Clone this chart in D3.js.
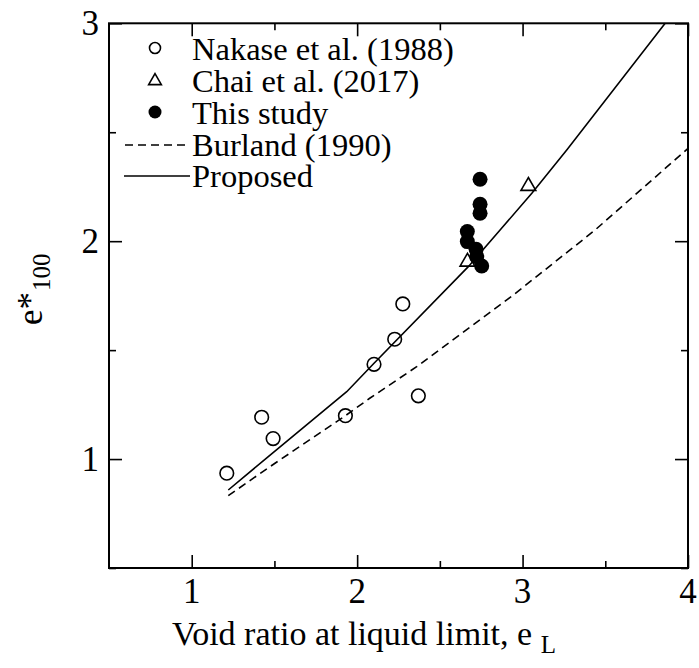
<!DOCTYPE html>
<html><head><meta charset="utf-8">
<script src="https://cdn.jsdelivr.net/npm/d3@7"></script>
<style>body{margin:0;background:#fff}svg{display:block}text{font-family:"Liberation Serif","Times New Roman",serif;fill:#000}</style>
</head><body>
<svg id="c" width="699" height="668"></svg>
<script>
// Data
const nakaseX = [1.212, 1.423, 1.492, 1.929, 2.102, 2.227, 2.276, 2.370];
const nakaseY = [0.935, 1.192, 1.094, 1.199, 1.435, 1.550, 1.712, 1.290];
const chaiX = [2.667, 3.035];
const chaiY = [1.905, 2.253];
const studyX = [2.743, 2.743, 2.743, 2.666, 2.666, 2.719, 2.723, 2.753];
const studyY = [2.284, 2.169, 2.128, 2.044, 1.998, 1.963, 1.929, 1.886];
const proposedX = [1.221, 1.463, 1.937, 2.102, 2.672, 2.864, 3.056, 3.267, 3.862];
const proposedY = [0.858, 1.011, 1.309, 1.440, 1.883, 2.051, 2.220, 2.419, 3.0];
const burlandX = [1.221, 1.461, 1.929, 2.076, 2.360, 2.944, 3.438, 4.0];
const burlandY = [0.832, 0.959, 1.199, 1.279, 1.424, 1.753, 2.051, 2.426];
const xTicks = [1, 2, 3, 4];
const yTicks = [1, 2, 3];
const xMinor = [1.5, 2.5, 3.5];
const yMinor = [0.5, 1.5, 2.5];
const legendLabels = ["Nakase et al. (1988)", "Chai et al. (2017)", "This study", "Burland (1990)", "Proposed"];

const svg = d3.select("#c");
const L = 109, R = 688, T = 23.3, B = 568;
const x = d3.scaleLinear().domain([0.5, 4]).range([L, R]);
const y = d3.scaleLinear().domain([0.5, 3]).range([B, T]);
const g = svg.append("g");

// ticks (inward) on all sides
const maj = 13, mnr = 7;
function ax(gen, tx, ty, vals, size) {
  g.append("g").attr("transform", `translate(${tx},${ty})`)
    .call(gen.tickValues(vals).tickSize(size).tickFormat(""))
    .call(s => s.select(".domain").remove());
}
ax(d3.axisTop(x), 0, B, xTicks, maj);
ax(d3.axisTop(x), 0, B, xMinor, mnr);
ax(d3.axisBottom(x), 0, T, xTicks, maj);
ax(d3.axisBottom(x), 0, T, xMinor, mnr);
ax(d3.axisRight(y), L, 0, yTicks, maj);
ax(d3.axisRight(y), L, 0, yMinor, mnr);
ax(d3.axisLeft(y), R, 0, yTicks, maj);
ax(d3.axisLeft(y), R, 0, yMinor, mnr);
g.selectAll(".tick line").attr("stroke", "#000").attr("stroke-width", 1.6);

// frame
g.append("rect").attr("x", L).attr("y", T).attr("width", R - L).attr("height", B - T)
  .attr("fill", "none").attr("stroke", "#000").attr("stroke-width", 2);

// tick labels
g.selectAll(".xl").data(xTicks).enter().append("text")
  .attr("x", d => x(d)).attr("y", 603).attr("text-anchor", "middle")
  .attr("font-size", 35).text(d => d);
g.selectAll(".yl").data(yTicks).enter().append("text")
  .attr("x", 99).attr("y", d => y(d) + 12).attr("text-anchor", "end")
  .attr("font-size", 35).text(d => d);

// axis titles
const xt = g.append("text").attr("x", 172).attr("y", 645).attr("font-size", 34);
xt.append("tspan").text("Void ratio at liquid limit, e ");
xt.append("tspan").attr("font-size", 25).attr("dy", 8).text("L");

const yt = g.append("text").attr("transform", "translate(42,325) rotate(-90)").attr("font-size", 35);
yt.append("tspan").text("e*");
yt.append("tspan").attr("font-size", 25).attr("dy", 8).attr("dx", 1).text("100");

// lines
const line = d3.line().x(d => x(d[0])).y(d => y(d[1]));
g.append("path").datum(d3.zip(burlandX, burlandY)).attr("d", line)
  .attr("fill", "none").attr("stroke", "#000").attr("stroke-width", 1.6).attr("stroke-dasharray", "8,5");
g.append("path").datum(d3.zip(proposedX, proposedY)).attr("d", line)
  .attr("fill", "none").attr("stroke", "#000").attr("stroke-width", 1.6);

// points
g.selectAll(".nk").data(d3.zip(nakaseX, nakaseY)).enter().append("circle")
  .attr("cx", d => x(d[0])).attr("cy", d => y(d[1])).attr("r", 6.8)
  .attr("fill", "none").attr("stroke", "#000").attr("stroke-width", 1.6);
const tri = d3.symbol().type(d3.symbolTriangle).size(95);
g.selectAll(".ch").data(d3.zip(chaiX, chaiY)).enter().append("path")
  .attr("d", tri).attr("transform", d => `translate(${x(d[0])},${y(d[1])})`)
  .attr("fill", "none").attr("stroke", "#000").attr("stroke-width", 1.6);
g.selectAll(".st").data(d3.zip(studyX, studyY)).enter().append("circle")
  .attr("cx", d => x(d[0])).attr("cy", d => y(d[1])).attr("r", 7.5).attr("fill", "#000");

// legend
const lg = g.append("g");
const base = [60, 92, 124, 156, 187];
legendLabels.forEach((t, i) => {
  lg.append("text").attr("x", 192).attr("y", base[i]).attr("font-size", 32.5).text(t);
});
lg.append("circle").attr("cx", 155).attr("cy", 48).attr("r", 5.5).attr("fill", "none").attr("stroke", "#000").attr("stroke-width", 1.6);
lg.append("path").attr("d", d3.symbol().type(d3.symbolTriangle).size(70)).attr("transform", "translate(155,81)")
  .attr("fill", "none").attr("stroke", "#000").attr("stroke-width", 1.6);
lg.append("circle").attr("cx", 155).attr("cy", 112).attr("r", 6.5).attr("fill", "#000");
lg.append("line").attr("x1", 125).attr("x2", 190).attr("y1", 145).attr("y2", 145)
  .attr("stroke", "#000").attr("stroke-width", 1.6).attr("stroke-dasharray", "8,5");
lg.append("line").attr("x1", 124).attr("x2", 190).attr("y1", 176).attr("y2", 176)
  .attr("stroke", "#000").attr("stroke-width", 1.6);
</script>
</body></html>
